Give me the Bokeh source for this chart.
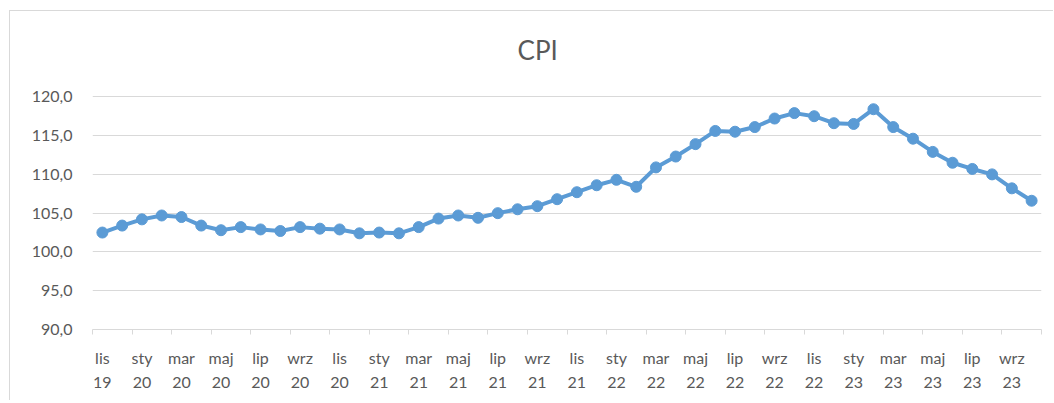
from bokeh.plotting import figure
from bokeh.models import Range1d, FixedTicker, CustomJSTickFormatter, ColumnDataSource, Label
from bokeh.embed import file_html
from bokeh.resources import INLINE

# ---- data ----
months = [
    "lis 19", "gru 19",
    "sty 20", "lut 20", "mar 20", "kwi 20", "maj 20", "cze 20",
    "lip 20", "sie 20", "wrz 20", "paź 20", "lis 20", "gru 20",
    "sty 21", "lut 21", "mar 21", "kwi 21", "maj 21", "cze 21",
    "lip 21", "sie 21", "wrz 21", "paź 21", "lis 21", "gru 21",
    "sty 22", "lut 22", "mar 22", "kwi 22", "maj 22", "cze 22",
    "lip 22", "sie 22", "wrz 22", "paź 22", "lis 22", "gru 22",
    "sty 23", "lut 23", "mar 23", "kwi 23", "maj 23", "cze 23",
    "lip 23", "sie 23", "wrz 23", "paź 23",
]
cpi = [
    102.5, 103.4,
    104.2, 104.7, 104.5, 103.4, 102.8, 103.2,
    102.9, 102.7, 103.2, 103.0, 102.9, 102.4,
    102.5, 102.4, 103.2, 104.3, 104.7, 104.4,
    105.0, 105.5, 105.9, 106.8, 107.7, 108.6,
    109.3, 108.4, 110.9, 112.3, 113.9, 115.6,
    115.5, 116.1, 117.2, 117.9, 117.5, 116.6,
    116.5, 118.4, 116.1, 114.6, 112.9, 111.5,
    110.7, 110.0, 108.2, 106.6,
]
y_ticks = [90, 95, 100, 105, 110, 115, 120]
title_text = "CPI"

# ---- build ----
idx = list(range(len(months)))
src = ColumnDataSource(dict(x=idx, y=cpi, month=months))

TXT = "#595959"
GRID = "#d9d9d9"
BLUE = "#5B9BD5"
FONT = "Lato"

# the frame reaches up to the top of the chart box; the empty band above 120
# holds the chart title
p = figure(width=1044, height=390, output_backend="svg", toolbar_location=None,
           x_range=Range1d(-0.5, len(months) - 0.5), y_range=Range1d(90, 131),
           min_border_left=82, min_border_right=13, min_border_top=0, min_border_bottom=72)
p.margin = (10, 0, 0, 9)
p.styles = {"border-top": "1px solid #d9d9d9", "border-left": "1px solid #d9d9d9"}
p.outline_line_color = None
p.background_fill_color = "white"
p.border_fill_color = "white"

p.add_layout(Label(x=21.0, y=126.0, text=title_text, text_align="left",
                   text_baseline="middle", text_font=FONT, text_font_size="26px",
                   text_color=TXT))

p.line("x", "y", source=src, line_color=BLUE, line_width=4)
p.scatter("x", "y", source=src, size=11, fill_color=BLUE, line_color=BLUE)

# y axis
p.yaxis.ticker = FixedTicker(ticks=y_ticks)
p.yaxis.formatter = CustomJSTickFormatter(code="return tick.toFixed(1).replace('.', ',');")
p.yaxis.axis_line_color = None
p.yaxis.major_tick_line_color = None
p.yaxis.minor_tick_line_color = None
p.yaxis.major_tick_out = 0
p.yaxis.major_label_standoff = 20
p.yaxis.major_label_text_font = FONT
p.yaxis.major_label_text_font_size = "16px"
p.yaxis.major_label_text_color = TXT

p.ygrid.ticker = FixedTicker(ticks=y_ticks)
p.ygrid.grid_line_color = GRID
p.ygrid.grid_line_width = 1
p.xgrid.grid_line_color = None

# x axis: labels every 2nd month, tick marks at pair boundaries
label_pos = idx[::2]
tick_pos = [i - 0.5 for i in range(0, len(months) + 1, 2)]
p.xaxis.ticker = FixedTicker(ticks=label_pos, minor_ticks=tick_pos)
p.xaxis.major_label_overrides = {i: months[i].replace(" ", "\n") for i in label_pos}
p.xaxis.axis_line_color = GRID
p.xaxis.axis_line_width = 1
p.xaxis.major_tick_line_color = None
p.xaxis.major_tick_out = 0
p.xaxis.major_tick_in = 0
p.xaxis.minor_tick_line_color = GRID
p.xaxis.minor_tick_out = 5
p.xaxis.minor_tick_in = 0
p.xaxis.major_label_standoff = 13
p.xaxis.major_label_text_font = FONT
p.xaxis.major_label_text_font_size = "16px"
p.xaxis.major_label_text_color = TXT
p.xaxis.major_label_text_line_height = 1.3

open("out.html", "w").write(file_html(p, INLINE))
